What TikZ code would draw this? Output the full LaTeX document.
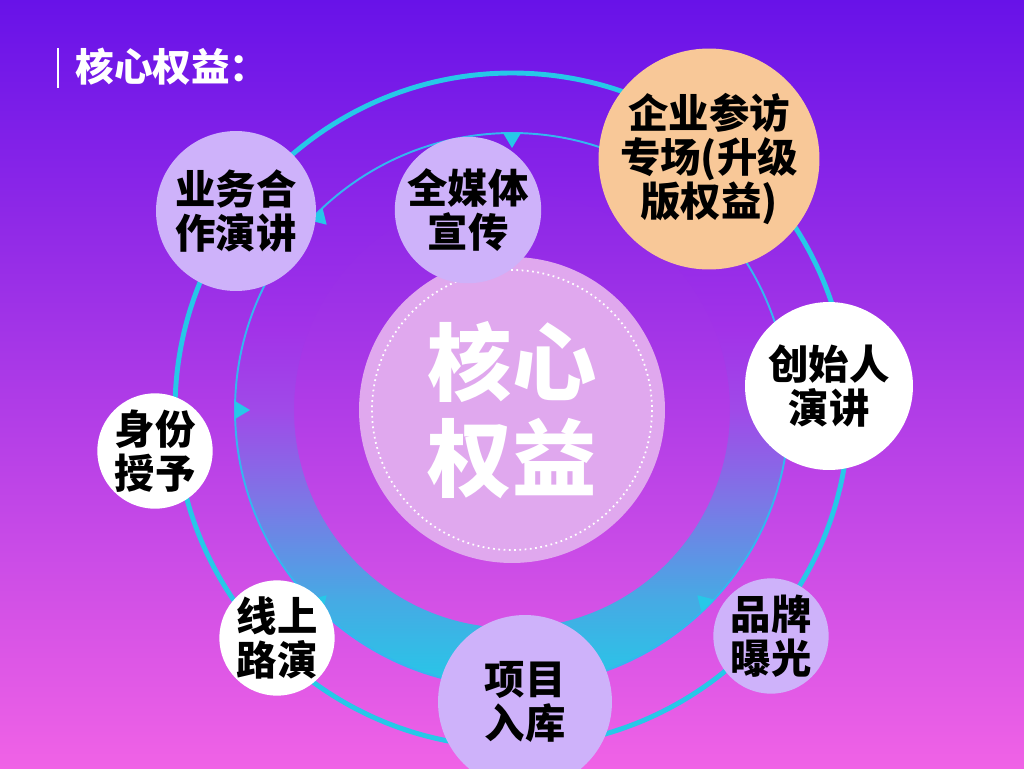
\documentclass[tikz,border=0pt]{standalone}
\usepackage{fontspec}
\newfontfamily\cjk{Noto Sans CJK SC}
\usepackage{xcolor}
\definecolor{bgtop}{RGB}{104,18,232}
\definecolor{bgmid}{RGB}{172,56,232}
\definecolor{bgbot}{RGB}{240,98,230}
\definecolor{ringcyan}{RGB}{38,200,232}
\definecolor{thincyan}{RGB}{52,182,240}
\definecolor{lilac}{RGB}{206,178,250}
\definecolor{peach}{RGB}{248,200,152}
\definecolor{corefill}{RGB}{224,168,238}
% band: blends into the background at the top, cyan at the bottom
\pgfdeclareverticalshading{bandshade}{100bp}{%
  color(0bp)=(ringcyan); color(25bp)=(ringcyan);
  color(32.9bp)=(rgb,255:red,70;green,170;blue,228);
  color(41.9bp)=(rgb,255:red,125;green,118;blue,230);
  color(50bp)=(rgb,255:red,160;green,74;blue,232);
  color(57.2bp)=(rgb,255:red,162;green,51;blue,232);
  color(64.4bp)=(rgb,255:red,148;green,43;blue,232);
  color(75bp)=(rgb,255:red,128;green,31;blue,232);
  color(100bp)=(rgb,255:red,128;green,31;blue,232)}

\begin{document}
\begin{tikzpicture}[x=0.02cm, y=-0.02cm,
  bubble/.style={circle, inner sep=0pt, align=center, text=black,
                 font=\cjk\bfseries\fontsize{23}{25}\selectfont},
  lilacb/.style={bubble, fill=lilac},
  peachb/.style={bubble, fill=peach},
  whiteb/.style={bubble, fill=white},
  core/.style={circle, inner sep=0pt, fill=corefill, minimum size=6.12cm, align=center,
               text=white, font=\cjk\bfseries\fontsize{48}{55}\selectfont},
  title/.style={anchor=west, inner sep=0pt, text=white, font=\cjk\bfseries\fontsize{22}{26}\selectfont}
]
  \useasboundingbox (0,0) rectangle (1024,768);
  \shade[top color=bgtop, middle color=bgmid, bottom color=bgbot] (0,0) rectangle (1024,768);
  \coordinate (c) at (512,410);

  % rings
  \draw[ringcyan, line width=2.8pt] (c) circle[radius=337];
  \shade[shading=bandshade, even odd rule] (c) circle[radius=277] (c) circle[radius=218];
  \draw[thincyan, line width=1.1pt] (c) circle[radius=277];
  \foreach \a in {90,135,180,225,315}
    \fill[ringcyan, shift={(c)}, rotate=\a] (277,-9) -- (277,9) -- (262,0) -- cycle;

  % centre
  \node[core] (core) at (c) {核心\\权益};
  \draw[white, dotted, line width=1pt] (core.center) circle[radius=140];

  % benefits
  \node[lilacb, minimum size=3.2cm] (biz) at (236,211) {业务合\\作演讲};
  \node[lilacb, minimum size=2.86cm] (media) at (468,210) {全媒体\\宣传};
  \node[peachb, minimum size=4.16cm] (visit) at (709,159) {企业参访\\专场(升级\\版权益)};
  \node[whiteb, minimum size=3.36cm] (founder) at (829,386) {创始人\\演讲};
  \node[whiteb, minimum size=2.28cm] (ident) at (155,451) {身份\\授予};
  \node[whiteb, minimum size=2.28cm] (road) at (277,638) {线上\\路演};
  \node[lilacb, minimum size=3.48cm] (proj) at (525,702) {项目\\入库};
  \node[lilacb, minimum size=2.28cm] (brand) at (771,636) {品牌\\曝光};

  % heading
  \node[title] (head) at (75,67) {核心权益：};
  \draw[white, line width=1.6pt] (58,48) -- (58,88);
\end{tikzpicture}
\end{document}
